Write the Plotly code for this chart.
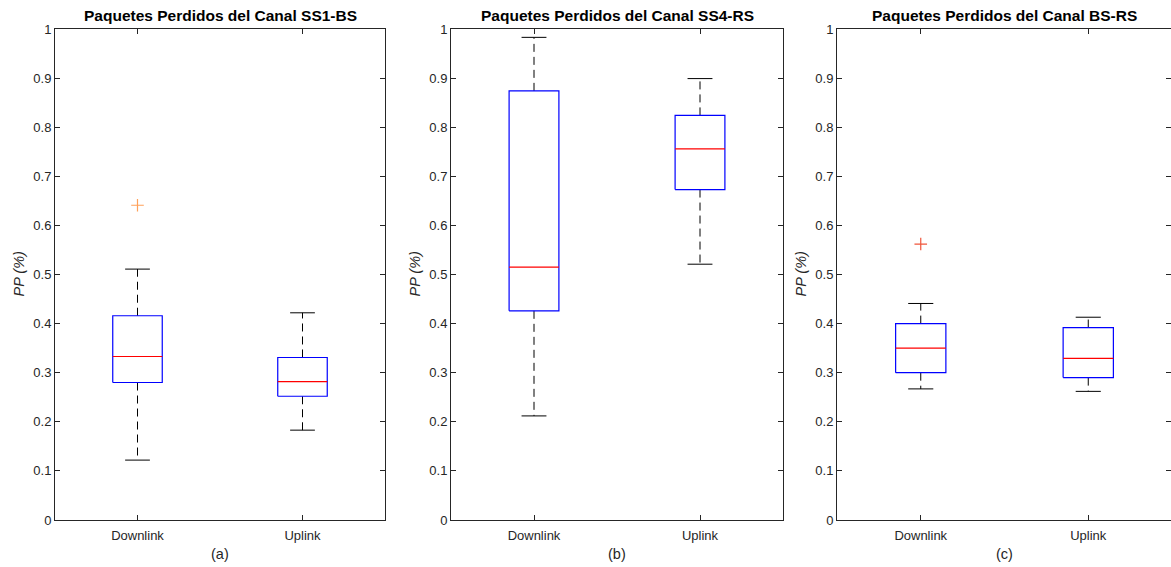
import plotly.graph_objects as go

# ---------------- data ----------------
titles = ["Paquetes Perdidos del Canal SS1-BS",
          "Paquetes Perdidos del Canal SS4-RS",
          "Paquetes Perdidos del Canal BS-RS"]
panel_labels = ["(a)", "(b)", "(c)"]
categories = ["Downlink", "Uplink"]
y_title = "PP (%)"

# per panel: [Downlink, Uplink]
lower_whisker = [[0.122, 0.183], [0.212, 0.521], [0.267, 0.262]]
q1 = [[0.280, 0.252], [0.426, 0.673], [0.300, 0.290]]
median = [[0.333, 0.282], [0.515, 0.756], [0.350, 0.329]]
q3 = [[0.416, 0.331], [0.874, 0.824], [0.400, 0.392]]
upper_whisker = [[0.511, 0.422], [0.983, 0.899], [0.441, 0.413]]
outliers = [[[0.641], []], [[], []], [[0.562], []]]

y_ticks = [0, 0.1, 0.2, 0.3, 0.4, 0.5, 0.6, 0.7, 0.8, 0.9, 1]
y_tick_labels = ["0", "0.1", "0.2", "0.3", "0.4", "0.5", "0.6", "0.7", "0.8", "0.9", "1"]

# ---------------- layout geometry ----------------
W, H = 1171, 567
x_px = [(55, 385), (451, 783), (837, 1172)]
y_px = (29, 520)
box_half = 0.15
cap_half = 0.075

AX = "#262626"
FONT = "Arial, Liberation Sans, Helvetica, sans-serif"

fig = go.Figure()
layout_axes = {}
annotations = []

ydom = [1 - y_px[1] / H, 1 - y_px[0] / H]

for p in range(3):
    xn = "" if p == 0 else str(p + 1)
    xref = "x" + xn
    yref = "y" + xn
    x0, x1 = x_px[p]
    xdom = [x0 / W, min(1.0, x1 / W)]
    rng_hi = 2.5 if x1 <= W else 0.5 + 2.0 * (W - x0) / (x1 - x0)
    layout_axes["xaxis" + xn] = dict(
        domain=xdom, anchor=yref, range=[0.5, rng_hi],
        tickvals=[1, 2], ticktext=categories,
        ticks="inside", ticklen=5, tickcolor=AX, tickwidth=1,
        showline=True, linecolor=AX, linewidth=1, mirror="ticks",
        showgrid=False, zeroline=False, ticklabelstandoff=3,
        tickfont=dict(family=FONT, size=13, color=AX),
    )
    layout_axes["yaxis" + xn] = dict(
        domain=ydom, anchor=xref, range=[0, 1],
        tickvals=y_ticks, ticktext=y_tick_labels,
        ticks="inside", ticklen=5, tickcolor=AX, tickwidth=1,
        showline=True, linecolor=AX, linewidth=1, mirror="ticks",
        showgrid=False, zeroline=False,
        tickfont=dict(family=FONT, size=13, color=AX),
    )

    for i in range(2):
        xc = i + 1
        # whiskers (dashed)
        fig.add_trace(go.Scatter(
            x=[xc, xc, None, xc, xc],
            y=[q3[p][i], upper_whisker[p][i], None, q1[p][i], lower_whisker[p][i]],
            mode="lines", line=dict(color="black", width=1, dash="8px,5px"),
            xaxis=xref, yaxis=yref, hoverinfo="skip"))
        # caps
        fig.add_trace(go.Scatter(
            x=[xc - cap_half, xc + cap_half, None, xc - cap_half, xc + cap_half],
            y=[upper_whisker[p][i], upper_whisker[p][i], None,
               lower_whisker[p][i], lower_whisker[p][i]],
            mode="lines", line=dict(color="black", width=1),
            xaxis=xref, yaxis=yref, hoverinfo="skip"))
        # box
        fig.add_trace(go.Scatter(
            x=[xc - box_half, xc + box_half, xc + box_half, xc - box_half, xc - box_half],
            y=[q1[p][i], q1[p][i], q3[p][i], q3[p][i], q1[p][i]],
            mode="lines", line=dict(color="#0000FF", width=1.2),
            xaxis=xref, yaxis=yref, hoverinfo="skip"))
        # median
        fig.add_trace(go.Scatter(
            x=[xc - box_half, xc + box_half],
            y=[median[p][i], median[p][i]],
            mode="lines", line=dict(color="#FF0000", width=1.2),
            xaxis=xref, yaxis=yref, hoverinfo="skip"))
        # outliers
        if outliers[p][i]:
            fig.add_trace(go.Scatter(
                x=[xc] * len(outliers[p][i]), y=outliers[p][i],
                mode="markers",
                marker=dict(symbol="cross-thin-open", size=9,
                            line=dict(color="#FF0000", width=1.2)),
                xaxis=xref, yaxis=yref, hoverinfo="skip"))

    cx = (x0 + x1) / 2 / W
    annotations.append(dict(
        text="<b>" + titles[p] + "</b>", x=cx, y=1 - 15 / H,
        xref="paper", yref="paper", showarrow=False,
        xanchor="center", yanchor="middle",
        font=dict(family=FONT, size=15.5, color="black")))
    annotations.append(dict(
        text=panel_labels[p], x=cx, y=1 - 554 / H,
        xref="paper", yref="paper", showarrow=False,
        xanchor="center", yanchor="middle",
        font=dict(family=FONT, size=14.5, color=AX)))
    annotations.append(dict(
        text="<i>" + y_title + "</i>", x=(x0 - 36) / W, y=(ydom[0] + ydom[1]) / 2,
        xref="paper", yref="paper", showarrow=False, textangle=-90,
        xanchor="center", yanchor="middle",
        font=dict(family=FONT, size=14.5, color=AX)))

fig.update_layout(
    width=W, height=H,
    margin=dict(l=0, r=0, t=0, b=0, autoexpand=False),
    paper_bgcolor="white", plot_bgcolor="white",
    showlegend=False,
    annotations=annotations,
    **layout_axes,
)

fig.write_html("out.html")
